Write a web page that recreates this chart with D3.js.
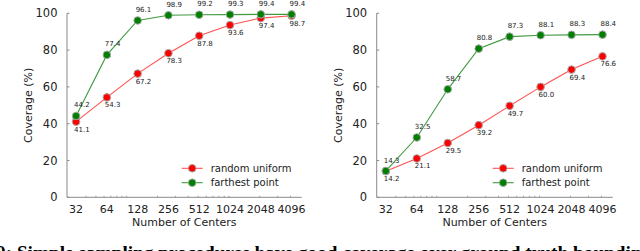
<!DOCTYPE html>
<html><head><meta charset="utf-8">
<script src="https://cdn.jsdelivr.net/npm/d3@7"></script>
<style>
html,body{margin:0;padding:0;background:#fff;overflow:hidden;}
svg{display:block;}
</style>
</head><body>
<svg id="c" width="640" height="251"></svg>
<script>
const centers = [32, 64, 128, 256, 512, 1024, 2048, 4096];
const yTicks = [0, 20, 40, 60, 80, 100];
const minorTicks = [40,50,60,70,80,90,100,200,300,400,500,600,700,800,900,1000,2000,3000,4000];
const leftRandom = [41.1, 54.3, 67.2, 78.3, 87.8, 93.6, 97.4, 98.7];
const leftFarthest = [44.2, 77.4, 96.1, 98.9, 99.2, 99.3, 99.4, 99.4];
const rightRandom = [14.2, 21.1, 29.5, 39.2, 49.7, 60.0, 69.4, 76.6];
const rightFarthest = [14.3, 32.5, 58.7, 80.8, 87.3, 88.1, 88.3, 88.4];
const seriesNames = ["random uniform", "farthest point"];
const xLabel = "Number of Centers";
const yLabel = "Coverage (%)";
const caption = "0: Simple sampling procedures have good coverage over ground truth bounding";

const svg = d3.select("#c");
const FONT = "DejaVu Sans, sans-serif";
const axisColor = "#8a8a8a";

function panel(x0, x1, rnd, far) {
  const g = svg.append("g");
  const x = d3.scaleLog().base(2).domain([Math.pow(2, 4.705), Math.pow(2, 12.33)]).range([x0, x1]);
  const y = d3.scaleLinear().domain([0, 100]).range([197.3, 13.3]);

  g.append("line").attr("x1", x0).attr("x2", x0).attr("y1", y(100)).attr("y2", y(0))
    .attr("stroke", axisColor).attr("stroke-width", 1);
  g.append("line").attr("x1", x0).attr("x2", x1).attr("y1", y(0)).attr("y2", y(0))
    .attr("stroke", axisColor).attr("stroke-width", 1);

  yTicks.forEach(t => {
    g.append("line").attr("x1", x0).attr("x2", x0 + 2.5).attr("y1", y(t)).attr("y2", y(t))
      .attr("stroke", axisColor).attr("stroke-width", 1);
    g.append("text").attr("x", x0 - 9.5).attr("y", y(t)).attr("dy", "0.36em")
      .attr("text-anchor", "end").attr("font-family", FONT).attr("font-size", 11.5)
      .attr("fill", "#222").text(t);
  });
  minorTicks.forEach(t => {
    g.append("line").attr("x1", x(t)).attr("x2", x(t)).attr("y1", y(0)).attr("y2", y(0) - 1.5)
      .attr("stroke", axisColor).attr("stroke-width", 0.8);
  });
  centers.forEach(t => {
    g.append("text").attr("x", x(t)).attr("y", 209.5).attr("dy", "0.36em")
      .attr("text-anchor", "middle").attr("font-family", FONT).attr("font-size", 11)
      .attr("fill", "#222").text(t);
  });
  g.append("text").attr("x", (x0 + x1) / 2).attr("y", 221.8).attr("dy", "0.36em")
    .attr("text-anchor", "middle").attr("font-family", FONT).attr("font-size", 11)
    .attr("fill", "#222").text(xLabel);
  g.append("text").attr("transform", `translate(${x0 - 39},${(y(0) + y(100)) / 2}) rotate(-90)`)
    .attr("dy", "0.36em").attr("text-anchor", "middle").attr("font-family", FONT)
    .attr("font-size", 11).attr("fill", "#222").text(yLabel);

  const series = [
    {vals: rnd, line: "#ff5050", fill: "#ff0000", dy: 7.5},
    {vals: far, line: "#3f9a3f", fill: "#008000", dy: -11}
  ];
  const line = d3.line().x((d, i) => x(centers[i])).y(d => y(d));
  series.forEach(s => {
    g.append("path").attr("d", line(s.vals)).attr("fill", "none")
      .attr("stroke", s.line).attr("stroke-width", 1.1);
  });
  series.forEach(s => {
    s.vals.forEach((v, i) => {
      g.append("circle").attr("cx", x(centers[i])).attr("cy", y(v)).attr("r", 3.8)
        .attr("fill", s.fill).attr("stroke", "#a8a8a8").attr("stroke-width", 1);
    });
  });
  series.forEach(s => {
    s.vals.forEach((v, i) => {
      g.append("text").attr("x", x(centers[i]) - 2).attr("y", y(v) + s.dy).attr("dy", "0.36em")
        .attr("text-anchor", "start").attr("font-family", FONT).attr("font-size", 7)
        .attr("fill", "#222").text(v.toFixed(1));
    });
  });

  const lx = x1 - 120;
  [0, 1].forEach(k => {
    const s = series[k];
    const ly = 168.3 + k * 14.4;
    g.append("line").attr("x1", lx).attr("x2", lx + 21).attr("y1", ly).attr("y2", ly)
      .attr("stroke", s.line).attr("stroke-width", 1.1);
    g.append("circle").attr("cx", lx + 10.5).attr("cy", ly).attr("r", 3.8)
      .attr("fill", s.fill).attr("stroke", "#a8a8a8").attr("stroke-width", 1);
    g.append("text").attr("x", lx + 29).attr("y", ly).attr("dy", "0.36em")
      .attr("font-family", FONT).attr("font-size", 10).attr("fill", "#222").text(seriesNames[k]);
  });
}

panel(67, 301.7, leftRandom, leftFarthest);
panel(376.7, 612.7, rightRandom, rightFarthest);

svg.append("text").attr("x", -4).attr("y", 258.5)
  .attr("font-family", "Liberation Serif, Times New Roman, serif").attr("font-weight", "bold")
  .attr("font-size", 19.3).attr("fill", "#000").text(caption);
</script>
</body></html>
